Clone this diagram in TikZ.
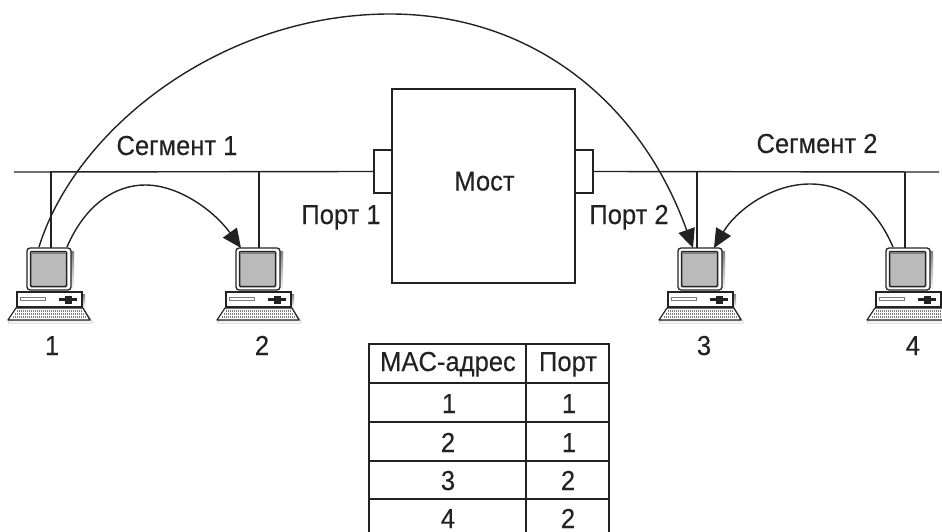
\documentclass[tikz,border=0pt]{standalone}
\usepackage{fontspec}
\setmainfont[FakeStretch=0.93,FakeBold=0.15]{Liberation Sans}
\usetikzlibrary{arrows.meta}
\definecolor{ink}{HTML}{222222}
\definecolor{screen}{HTML}{BABABA}
\definecolor{shade}{HTML}{A8A8A8}
\tikzset{
  wire/.style={draw=ink,line width=1.4pt},
  link/.style={draw=ink,line width=1.4pt,-{Triangle[length=19pt,width=17pt]}},
  box/.style={draw=ink,line width=1.4pt,fill=white,inner sep=0pt},
  lbl/.style={font=\fontsize{27.5}{28}\selectfont,text=ink,inner sep=0pt,anchor=base},
  pics/computer/.style={code={
    \fill[shade] (3,3) rectangle (47,43);
    \node[draw=ink,line width=1.3pt,fill=white,rounded corners=3pt,minimum width=44pt,minimum height=42pt,inner sep=0pt] (-mon) at (22,21) {};
    \draw[draw=ink,line width=1.5pt,fill=screen,rounded corners=1pt] (3.5,3.5) rectangle (39.5,38.5);
    \fill[black!50] (4,4) rectangle (39,6);
    \fill[shade] (55,46) rectangle (58,60);
    \draw[draw=ink,line width=1.2pt,fill=white] (-10,44) rectangle (55,59);
    \draw[draw=ink!60,line width=.7pt,fill=white] (-7,49) rectangle (18,52.5);
    \fill[ink] (32,49.5) rectangle (50,53);
    \fill[ink] (38,47.5) rectangle (45,55.5);
    \fill[shade] (56,60) -- (65,73) -- (65,75) -- (-18,75) -- (-19,73) -- cycle;
    \draw[draw=ink,line width=1.2pt,fill=white,line join=round] (-11,60) -- (56,60) -- (63,72) -- (-19,72) -- cycle;
    \draw[draw=ink!60,line width=2pt,dash pattern=on .8pt off 1.2pt] (-10,63) -- (56,63);
    \draw[draw=ink!60,line width=2pt,dash pattern=on .8pt off 1.2pt] (-12,66) -- (58,66);
    \draw[draw=ink!60,line width=2pt,dash pattern=on .8pt off 1.2pt] (-14,69) -- (60,69);
  }}
}
\begin{document}
\begin{tikzpicture}[x=1pt,y=-1pt]
\useasboundingbox (0,0) rectangle (942,532);
% computers
\pic (c1) at (27,248) {computer};
\pic (c2) at (236,248) {computer};
\pic (c3) at (678,248) {computer};
\pic (c4) at (886,248) {computer};
% bridge and ports
\node[box,minimum width=183pt,minimum height=194pt] (bridge) at (483.5,186) {};
\node[lbl] (bridgelabel) at (484.5,190.5) {Мост};
\node[box,minimum width=18pt,minimum height=43pt] (p1) at (383,171.5) {};
\node[box,minimum width=18pt,minimum height=43pt] (p2) at (584,171.5) {};
% segment ends
\coordinate (s1) at (14,172);
\coordinate (s2) at (939,172);
\draw[wire] (s1) -- (p1.west);
\draw[wire] (p2.east) -- (s2);
\foreach \c/\x in {c1/51,c2/259,c3/697,c4/905}
  \draw[wire] (\x,172) -- (\x,248);
% labels
\node[lbl] (t1) at (177,155) {Сегмент 1};
\node[lbl] (t2) at (817,153) {Сегмент 2};
\node[lbl] (t3) at (341,224) {Порт 1};
\node[lbl] (t4) at (629,224) {Порт 2};
\node[lbl] (n1) at (52,355) {1};
\node[lbl] (n2) at (262,355) {2};
\node[lbl] (n3) at (704,355) {3};
\node[lbl] (n4) at (913,355) {4};
% arcs
\coordinate (a1) at (39,247);
\coordinate (a2) at (67,247);
\coordinate (a3) at (893,247);
\draw[link] (a1) .. controls (75,130) and (220,14) .. (390,14) .. controls (530,14) and (640,100) .. (693,248);
\draw[link] (a2) .. controls (85,205) and (115,185) .. (145,185) .. controls (180,185) and (215,212) .. (241,248);
\draw[link] (a3) .. controls (875,205) and (845,184) .. (810,184) .. controls (770,184) and (735,212) .. (714,248);
% table
\draw[wire] (369,532) -- (369,344) -- (609,344) -- (609,532);
\draw[wire] (526,344) -- (526,532);
\foreach \y in {383,422,461,499} \draw[wire] (369,\y) -- (609,\y);
\node[lbl] (h1) at (448,371) {MAC-адрес};
\node[lbl] (h2) at (568,371) {Порт};
\node[lbl] (r1a) at (449,413) {1};
\node[lbl] (r1b) at (569,413) {1};
\node[lbl] (r2a) at (448,452) {2};
\node[lbl] (r2b) at (569,452) {1};
\node[lbl] (r3a) at (448,490) {3};
\node[lbl] (r3b) at (568,490) {2};
\node[lbl] (r4a) at (448,528) {4};
\node[lbl] (r4b) at (568,528) {2};
\end{tikzpicture}
\end{document}
